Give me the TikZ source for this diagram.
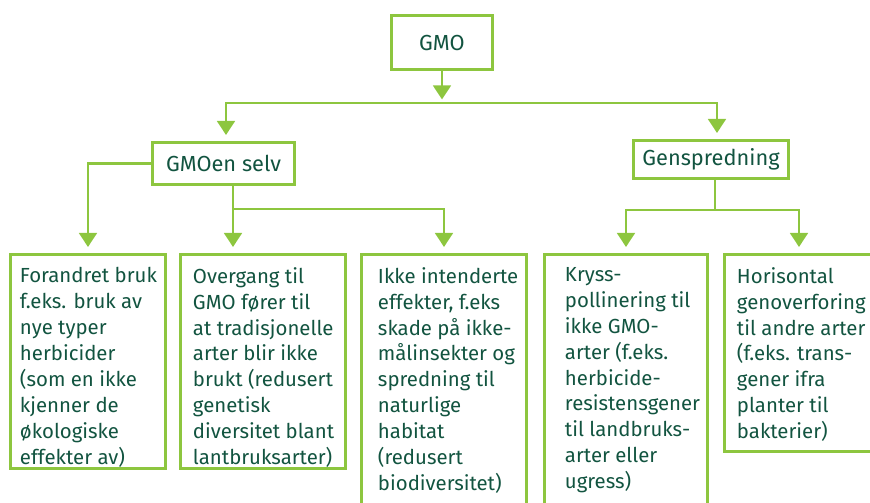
\documentclass[tikz,border=0pt]{standalone}
\usepackage{fontspec}
\setmainfont{Fira Sans}
\usetikzlibrary{arrows.meta,calc}
\definecolor{gmogreen}{RGB}{141,198,63}
\definecolor{gmotext}{RGB}{18,84,64}
\newlength\px \setlength\px{0.02cm}
\newcommand{\leaftext}[3]{\makebox[#2\px][l]{\parbox[t][#1\px][t]{300\px}{\raggedright #3}}}

\begin{document}
\begin{tikzpicture}[x=0.02cm, y=-0.02cm, line width=1.7pt,
  box/.style={draw=gmogreen, text=gmotext, inner sep=0pt, font=\fontsize{12.4pt}{14pt}\selectfont},
  leaf/.style={draw=gmogreen, text=gmotext, anchor=north west, inner ysep=7.3pt, font=\fontsize{11.6pt}{14.75pt}\selectfont},
  arr/.style={draw=gmogreen, -{Triangle[width=10pt,length=8pt]}, shorten >=3.4pt},
  link/.style={draw=gmogreen}]
\useasboundingbox (0,0) rectangle (870,503);

% top levels
\node[box, minimum width=101\px, minimum height=54\px] (gmo) at (442,42.5) {GMO};
\node[box, minimum width=142\px, minimum height=42\px] (selv) at (223.5,163.5) {GMOen selv};
\node[box, minimum width=155\px, minimum height=38\px] (gen) at (711,159.5) {Genspredning};

% effects
\node[leaf, inner xsep=9.5\px] (b1) at (9,253) {\leaftext{188}{136}{Forandret bruk\\ f.eks. bruk av\\ nye typer\\ herbicider\\ (som en ikke\\ kjenner de\\ økologiske\\ effekter av)}};
\node[leaf, inner xsep=12.5\px] (b2) at (179,253) {\leaftext{188}{140}{Overgang til\\ GMO fører til\\ at tradisjonelle\\ arter blir ikke\\ brukt (redusert\\ genetisk\\ diversitet blant\\ lantbruksarter)}};
\node[leaf, inner xsep=16.5\px] (b3) at (360,253) {\leaftext{300}{132}{Ikke intenderte\\ effekter, f.eks\\ skade på ikke-\\ målinsekter og\\ spredning til\\ naturlige\\ habitat\\ (redusert\\ biodiversitet)}};
\node[leaf, inner xsep=20.5\px] (b4) at (543,253) {\leaftext{300}{122}{Kryss-\\ pollinering til\\ ikke GMO-\\ arter (f.eks.\\ herbicide-\\ resistensgener\\ til landbruks-\\ arter eller\\ ugress)}};
\node[leaf, inner xsep=12.5\px] (b5) at (723,253) {\leaftext{171.5}{125}{Horisontal\\ genoverforing\\ til andre arter\\ (f.eks. trans-\\ gener ifra\\ planter til\\ bakterier)}};

% connectors
\coordinate (hub) at (442,103);
\coordinate (fork1) at (233,209);
\coordinate (fork2) at (715,210);
\draw[arr, shorten >=2pt] (gmo) -- (hub);
\draw[arr] (hub) -| ($(selv.north)+(2.5,0)$);
\draw[arr] (hub) -| ($(gen.north)+(6,0)$);
\draw[arr] (selv.west) -| (b1);
\draw[link] (selv.south -| fork1) -- (fork1);
\draw[arr] (fork1) -- (fork1 |- b2.north);
\draw[arr] (fork1) -| (b3);
\draw[link] (gen.south -| fork2) -- (fork2);
\draw[arr] (fork2) -| (b4);
\draw[arr] (fork2) -| (b5.north -| 799,0);
\end{tikzpicture}
\end{document}
